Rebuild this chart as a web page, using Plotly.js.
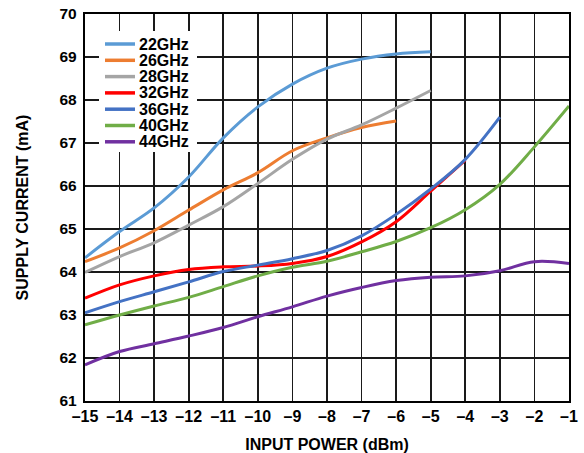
<!DOCTYPE html>
<html>
<head>
<meta charset="utf-8">
<script src="https://cdn.plot.ly/plotly-3.0.1.min.js"></script>
<style>
  html, body { margin: 0; padding: 0; background: #fff; }
  #chart { width: 584px; height: 453px; }
</style>
</head>
<body>
<div id="chart"></div>
<script>
// Supply current vs. input power, one curve per frequency
const inputPower = [-15, -14, -13, -12, -11, -10, -9, -8, -7, -6, -5, -4, -3, -2, -1];

const series22 = [64.33, 64.94, 65.49, 66.21, 67.12, 67.84, 68.37, 68.74, 68.95, 69.07, 69.12];
const series26 = [64.24, 64.56, 64.96, 65.44, 65.91, 66.31, 66.82, 67.12, 67.36, 67.51];
const series28 = [63.99, 64.36, 64.68, 65.09, 65.52, 66.06, 66.62, 67.09, 67.42, 67.81, 68.22];
const series32 = [63.39, 63.70, 63.91, 64.06, 64.12, 64.14, 64.20, 64.36, 64.70, 65.17, 65.88, 66.60];
const series36 = [63.05, 63.31, 63.54, 63.77, 64.01, 64.16, 64.31, 64.50, 64.84, 65.34, 65.93, 66.62, 67.60];
const series40 = [62.77, 63.00, 63.21, 63.41, 63.66, 63.91, 64.11, 64.25, 64.47, 64.71, 65.03, 65.45, 66.04, 66.91, 67.86];
const series44 = [61.84, 62.15, 62.33, 62.51, 62.71, 62.96, 63.19, 63.44, 63.64, 63.80, 63.88, 63.91, 64.03, 64.24, 64.20];

const seriesNames = ['22GHz', '26GHz', '28GHz', '32GHz', '36GHz', '40GHz', '44GHz'];
const seriesValues = [series22, series26, series28, series32, series36, series40, series44];
const seriesColors = ['#5B9BD5', '#ED7D31', '#A5A5A5', '#FF0000', '#4472C4', '#70AD47', '#7030A0'];

const xTickVals = [-15, -14, -13, -12, -11, -10, -9, -8, -7, -6, -5, -4, -3, -2, -1];
const xTickText = ['–15', '–14', '–13', '–12', '–11', '–10', '–9', '–8', '–7', '–6', '–5', '–4', '–3', '–2', '–1'];

const FONT = 'Liberation Sans, Arial, Helvetica, sans-serif';
const M = { l: 85, r: 15, t: 14, b: 52 };
const W = 584 - M.l - M.r;
const H = 453 - M.t - M.b;
const px2x = p => (p - M.l) / W;
const px2y = p => (453 - M.b - p) / H;

// Later traces sit on top (36GHz over 32GHz)
const traces = seriesNames.map((name, i) => ({
  x: inputPower.slice(0, seriesValues[i].length),
  y: seriesValues[i],
  name: name,
  type: 'scatter',
  mode: 'lines',
  line: { color: seriesColors[i], width: 3, shape: 'spline', smoothing: 1 },
  hoverinfo: 'skip'
}));

// Hand-built legend: white box, short sample lines and labels
const shapes = [{
  type: 'rect', xref: 'paper', yref: 'paper', layer: 'above',
  x0: px2x(99), x1: px2x(197), y0: px2y(152), y1: px2y(31),
  fillcolor: '#ffffff', line: { width: 0 }
}];
const annotations = [];
seriesNames.forEach((name, i) => {
  const yp = px2y(44 + i * 16.3);
  shapes.push({
    type: 'line', xref: 'paper', yref: 'paper', layer: 'above',
    x0: px2x(105), x1: px2x(135), y0: yp, y1: yp,
    line: { color: seriesColors[i], width: 3.5 }
  });
  annotations.push({
    xref: 'paper', yref: 'paper', x: px2x(137), y: yp,
    xanchor: 'left', yanchor: 'middle', showarrow: false,
    text: name,
    font: { family: FONT, size: 16, color: '#000', weight: 'bold' }
  });
});

const axisCommon = {
  showgrid: true, gridcolor: '#1a1a1a', gridwidth: 1.8,
  zeroline: false, showline: true, linecolor: '#000', linewidth: 2.2, mirror: true,
  ticks: '', fixedrange: true
};

const layout = {
  width: 584, height: 453,
  margin: M,
  paper_bgcolor: '#fff', plot_bgcolor: '#fff',
  showlegend: false,
  xaxis: Object.assign({}, axisCommon, {
    range: [-15, -1], tickmode: 'array', tickvals: xTickVals, ticktext: xTickText,
    tickfont: { family: FONT, size: 16, color: '#000', weight: 'bold' },
    title: { text: 'INPUT POWER (dBm)', standoff: 14,
             font: { family: FONT, size: 16, color: '#000', weight: 'bold' } }
  }),
  yaxis: Object.assign({}, axisCommon, {
    range: [61, 70], dtick: 1, tick0: 61,
    ticklabelstandoff: 3,
    tickfont: { family: FONT, size: 15.5, color: '#000', weight: 'bold' },
    title: { text: 'SUPPLY CURRENT (mA)', standoff: 27,
             font: { family: FONT, size: 16, color: '#000', weight: 'bold' } }
  }),
  shapes: shapes,
  annotations: annotations
};

Plotly.newPlot('chart', traces, layout, { displayModeBar: false, staticPlot: true });
</script>
</body>
</html>
